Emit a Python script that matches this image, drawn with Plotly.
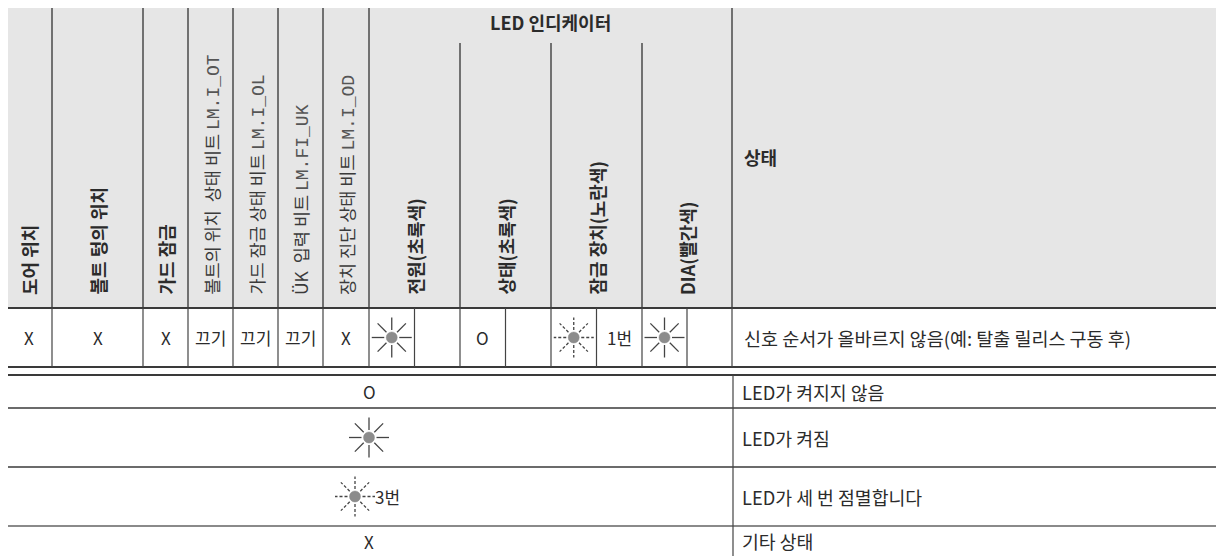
import plotly.graph_objects as go

# ---------------- data (text content of the table) ----------------
header_main = ["도어 위치", "볼트 텅의 위치", "가드 잠금"]
header_bits_prefix = ["볼트의 위치  상태 비트 ", "가드 잠금 상태 비트 ", "ÜK  입력 비트 ", "장치 진단 상태 비트 "]
header_bits_code = ["LM.I_OT", "LM.I_OL", "LM.FI_UK", "LM.I_OD"]
led_group_title = "LED 인디케이터"
led_labels = ["전원(초록색)", "상태(초록색)", "잠금 장치(노란색)", "DIA(빨간색)"]
status_title = "상태"

row_cells = ["X", "X", "X", "끄기", "끄기", "끄기", "X"]
row_led_symbols = ["on", "off", "blink", "on"]
row_led_notes = ["", "", "1번", ""]
row_status = "신호 순서가 올바르지 않음(예: 탈출 릴리스 구동 후)"

legend_symbols = ["off", "on", "blink", "other"]
legend_notes = ["", "", "3번", ""]
legend_texts = ["LED가 켜지지 않음", "LED가 켜짐", "LED가 세 번 점멸합니다", "기타 상태"]

# ---------------- layout geometry ----------------
# page has an 8px body margin: the figure is drawn from page pixel 8 on,
# so the axis ranges start at 8 to keep page-pixel coordinates.
PAGE_W, PAGE_H = 1224, 556
OFF = 8
W, H = PAGE_W, PAGE_H
LEFT = 6
TOP = 6
HDR_BOT = 308
ROW_BOT = 367
LEG_TOP = 375
LEG_LINES = [375, 408, 467, 526, 556]
main_edges = [6, 52, 143, 188, 233, 278, 323, 369]
led_edges = [369, 460, 551, 642, 732]
STATUS_X = 732

FONT = "Noto Sans CJK KR"
MONO = "Liberation Mono"
TXT = "#2b2b2b"
LINE = "#3a3a3a"

fig = go.Figure()
shapes = []
ann = []

def hline(y, x0=LEFT, x1=W, color=LINE, width=2):
    shapes.append(dict(type="line", x0=x0, x1=x1, y0=y, y1=y, line=dict(color=color, width=width)))

def vline(x, y0, y1, color=LINE, width=1.5):
    shapes.append(dict(type="line", x0=x, x1=x, y0=y0, y1=y1, line=dict(color=color, width=width)))

def text(x, y, s, size=18, xanchor="center", yanchor="middle", angle=0, color=TXT, family=FONT):
    ann.append(dict(x=x, y=y, text=s, showarrow=False, xanchor=xanchor, yanchor=yanchor,
                    textangle=angle, font=dict(family=family, size=size, color=color),
                    xref="x", yref="y"))

# header background
shapes.append(dict(type="rect", x0=LEFT, x1=W + 5, y0=TOP, y1=HDR_BOT, fillcolor="#e6e6e6",
                   line=dict(width=0), layer="below"))

# header vertical lines
for x in main_edges[1:] + [led_edges[-1]]:
    vline(x, TOP, HDR_BOT, color="#4a4a4a", width=1.5)
for x in led_edges[1:-1]:
    vline(x, 43, HDR_BOT, color="#4a4a4a", width=1.5)

# header labels (rotated)
LBL_BOT = 297
for i, s in enumerate(header_main):
    cx = (main_edges[i] + main_edges[i + 1]) / 2
    text(cx, LBL_BOT, "<b>" + s + "</b>", angle=-90, yanchor="bottom")
for i, (p, c) in enumerate(zip(header_bits_prefix, header_bits_code)):
    cx = (main_edges[i + 3] + main_edges[i + 4]) / 2
    s = p.replace("  ", " &nbsp;") + "<span style='font-family:%s;font-size:18px;fill:#555555'>%s</span>" % (MONO, c)
    text(cx, LBL_BOT, s, angle=-90, yanchor="bottom", color="#3a3a3a", size=17.5)
for i, s in enumerate(led_labels):
    cx = (led_edges[i] + led_edges[i + 1]) / 2
    text(cx, LBL_BOT, "<b>" + s + "</b>", angle=-90, yanchor="bottom")
text((led_edges[0] + led_edges[-1]) / 2, 22, "<b>" + led_group_title + "</b>")
text(STATUS_X + 10, 157, "<b>" + status_title + "</b>", xanchor="left")

# data row
ROW_Y = (HDR_BOT + ROW_BOT) / 2
hline(HDR_BOT, width=2)
hline(ROW_BOT, width=2)
half_edges = []
for i in range(4):
    a, b = led_edges[i], led_edges[i + 1]
    half_edges += [a, (a + b) / 2]
half_edges.append(led_edges[-1])
for x in main_edges[1:] + half_edges[1:]:
    vline(x, HDR_BOT, ROW_BOT, color="#444444", width=1.2)

for i, s in enumerate(row_cells):
    cx = (main_edges[i] + main_edges[i + 1]) / 2
    text(cx, ROW_Y, s, size=17)


def led_icon(cx, cy, kind, scale=1.0):
    import math
    dash = "solid" if kind == "on" else "3px,2px"
    r0, r1 = 7.5 * scale, 20 * scale
    for k in range(8):
        a = k * math.pi / 4
        dx, dy = math.cos(a), math.sin(a)
        shapes.append(dict(type="line", x0=cx + r0 * dx, x1=cx + r1 * dx, y0=cy + r0 * dy, y1=cy + r1 * dy,
                           line=dict(color="#444", width=1.3, dash=dash)))
    r = 5.5 * scale
    shapes.append(dict(type="circle", x0=cx - r, x1=cx + r, y0=cy - r, y1=cy + r,
                       fillcolor="#8c8c8c", line=dict(color="#8c8c8c", width=0.5)))


for i, (sym, note) in enumerate(zip(row_led_symbols, row_led_notes)):
    a, b = led_edges[i], led_edges[i + 1]
    cx = a + (b - a) / 4
    if sym == "off":
        text(cx, ROW_Y, "O", size=17)
    else:
        led_icon(cx, ROW_Y, sym)
    if note:
        text(a + 3 * (b - a) / 4, ROW_Y, note, size=17)

text(STATUS_X + 10, ROW_Y, row_status, xanchor="left", size=18.5)

# legend
for y in LEG_LINES[:-1]:
    if y == 526:
        hline(y, color="#8a8a8a", width=2)
    elif y == 375:
        hline(y, width=2)
    else:
        hline(y, width=1.5)
vline(STATUS_X + 1, LEG_TOP, H, color="#444444", width=1.2)

mid = (LEFT + STATUS_X) / 2
for i, (sym, note, t) in enumerate(zip(legend_symbols, legend_notes, legend_texts)):
    cy = (LEG_LINES[i] + LEG_LINES[i + 1]) / 2
    if sym in ("off", "other"):
        text(mid, cy, "O" if sym == "off" else "X", size=17)
    else:
        cx = mid - 14 if note else mid
        led_icon(cx, cy, sym)
        if note:
            text(cx + 18, cy, note, size=17, xanchor="left")
    text(STATUS_X + 8, cy, t, xanchor="left", size=18.3)

fig.update_layout(
    width=PAGE_W - OFF, height=PAGE_H - OFF, margin=dict(l=0, r=0, t=0, b=0),
    paper_bgcolor="white", plot_bgcolor="white",
    xaxis=dict(range=[OFF, PAGE_W], visible=False, fixedrange=True),
    yaxis=dict(range=[PAGE_H, OFF], visible=False, fixedrange=True),
    shapes=shapes, annotations=ann, showlegend=False,
)
fig.write_html("out.html", config={"displayModeBar": False})
